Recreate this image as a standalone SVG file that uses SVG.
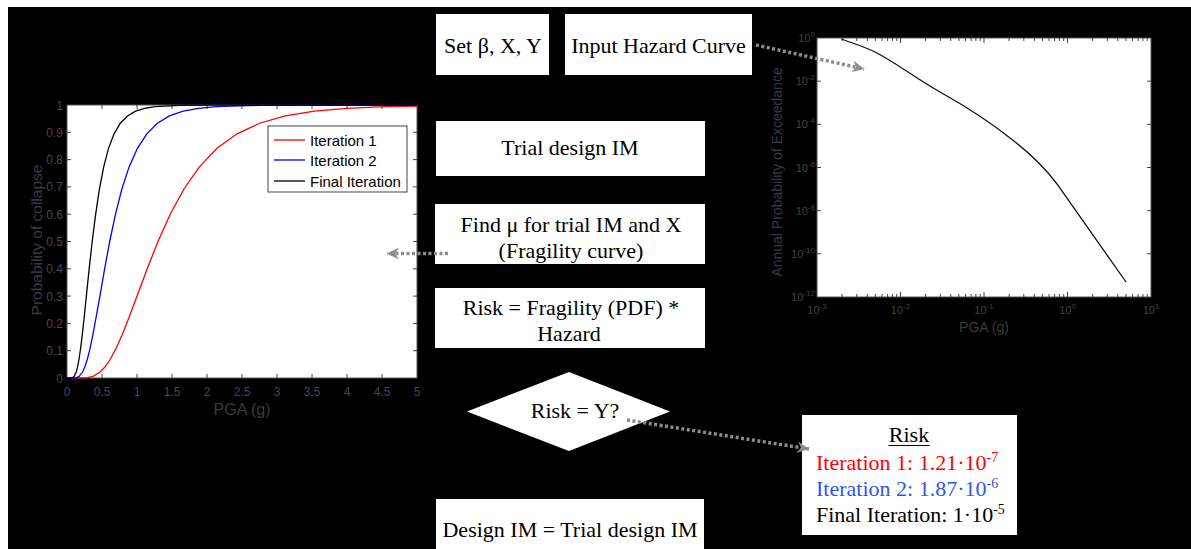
<svg xmlns="http://www.w3.org/2000/svg" width="1191" height="549" viewBox="0 0 1191 549">
<style>
.box{fill:#fff;stroke:none}
.t{font-family:"Liberation Serif","Times New Roman",serif;font-size:22px;fill:#000}
.t.red{fill:#ff0000}
.t.blue{fill:#2f55f0}
.ax{font-family:"Liberation Sans",Arial,sans-serif}
.tl{font-family:"Liberation Sans",Arial,sans-serif;font-size:12px;fill:#464655}
.tr{font-family:"Liberation Sans",Arial,sans-serif;font-size:11px;fill:#3d463d}
.tick{stroke:#444;stroke-width:1}
.conn{fill:none;stroke:#8c8c8c;stroke-width:3.5;stroke-dasharray:3 2.5}
.curve{fill:none;stroke-width:1.3}
</style>
<defs>
<marker id="ah" markerUnits="userSpaceOnUse" markerWidth="14" markerHeight="14" refX="12" refY="6" orient="auto">
<path d="M0,0 L12,6 L0,12 L4,6 z" fill="#8c8c8c"/>
</marker>
<clipPath id="clipL"><rect x="67" y="104" width="350" height="275"/></clipPath>
</defs>
<rect x="0" y="0" width="1191" height="549" fill="#fff"/>
<rect x="8" y="7" width="1183" height="542" fill="#000"/>

<g id="fragility-plot">
<rect x="67" y="105" width="350" height="273" fill="#fff" stroke="#555" stroke-width="1"/>
<g class="tick">
<path d="M102,378v-4M137,378v-4M172,378v-4M207,378v-4M242,378v-4M277,378v-4M312,378v-4M347,378v-4M382,378v-4M102,105v4M137,105v4M172,105v4M207,105v4M242,105v4M277,105v4M312,105v4M347,105v4M382,105v4M67,350.7h4M67,323.4h4M67,296.1h4M67,268.8h4M67,241.5h4M67,214.2h4M67,186.9h4M67,159.6h4M67,132.3h4M417,350.7h-4M417,323.4h-4M417,296.1h-4M417,268.8h-4M417,241.5h-4M417,214.2h-4M417,186.9h-4M417,159.6h-4M417,132.3h-4"/>
</g>
<g clip-path="url(#clipL)">
<polyline class="curve" stroke="#ff0000" points="67,378 82.8,377.95 87.3,377.63 93.1,376.31 100.5,371.78 104.9,367.05 110,359.76 115.7,349.17 122.2,334.67 129.5,316.14 137.9,293.78 147.3,268.44 158,241.5 170.1,214.55 183.8,189.22 199.4,166.86 217,148.33 237,133.83 259.6,123.24 285.3,115.95 314.4,111.22 347.3,108.33 384.6,106.69 417,106"/>
<polyline class="curve" stroke="#0000ff" points="67,378 74.4,377.95 76.5,377.63 79.2,376.31 82.7,371.78 84.8,367.05 87.2,359.76 89.9,349.17 92.9,334.67 96.3,316.14 100.3,293.78 104.7,268.44 109.7,241.5 115.4,214.55 121.8,189.22 129.1,166.86 137.4,148.33 146.8,133.83 157.4,123.24 169.4,115.95 183.1,111.22 198.5,108.33 216,106.69 258.4,105.37 312.7,105.05 417,105"/>
<polyline class="curve" stroke="#000000" points="67,378 71.4,377.95 72.6,377.63 74.2,376.31 76.3,371.78 77.5,367.05 78.9,359.76 80.5,349.17 82.3,334.67 84.3,316.14 86.6,293.78 89.2,268.44 92.2,241.5 95.6,214.55 99.4,189.22 103.7,166.86 108.5,148.33 114.1,133.83 120.3,123.24 127.5,115.95 135.5,111.22 144.6,108.33 155,106.69 179.9,105.37 212,105.05 417,105"/>
</g>
<g id="legend">
<rect x="268" y="126" width="139" height="66" fill="#fff" stroke="#444" stroke-width="1"/>
<line x1="274" y1="140" x2="305" y2="140" stroke="#ff0000" stroke-width="1.3"/>
<line x1="274" y1="160" x2="305" y2="160" stroke="#0000ff" stroke-width="1.3"/>
<line x1="274" y1="181" x2="305" y2="181" stroke="#000" stroke-width="1.3"/>
<text class="ax" x="310" y="145.5" font-size="15" fill="#000">Iteration 1</text>
<text class="ax" x="310" y="165.5" font-size="15" fill="#000">Iteration 2</text>
<text class="ax" x="310" y="186.5" font-size="15" fill="#000">Final Iteration</text>
</g>
<g class="tl" text-anchor="end">
<text x="63" y="382.5">0</text>
<text x="63" y="355.2">0.1</text>
<text x="63" y="327.9">0.2</text>
<text x="63" y="300.6">0.3</text>
<text x="63" y="273.3">0.4</text>
<text x="63" y="246">0.5</text>
<text x="63" y="218.7">0.6</text>
<text x="63" y="191.4">0.7</text>
<text x="63" y="164.1">0.8</text>
<text x="63" y="136.8">0.9</text>
<text x="63" y="109.5">1</text>
</g>
<g class="tl" text-anchor="middle">
<text x="67" y="396">0</text>
<text x="102" y="396">0.5</text>
<text x="137" y="396">1</text>
<text x="172" y="396">1.5</text>
<text x="207" y="396">2</text>
<text x="242" y="396">2.5</text>
<text x="277" y="396">3</text>
<text x="312" y="396">3.5</text>
<text x="347" y="396">4</text>
<text x="382" y="396">4.5</text>
<text x="417" y="396">5</text>
</g>
<text class="ax" x="242" y="415" font-size="16" fill="#353f35" text-anchor="middle">PGA (g)</text>
<text class="ax" transform="translate(42,240) rotate(-90)" font-size="15.5" fill="#3a3a44" text-anchor="middle">Probability of collapse</text>
</g>

<g id="hazard-plot">
<rect x="817" y="38" width="334" height="259" fill="#fff" stroke="#555" stroke-width="1"/>
<g class="tick">
<path d="M817,81.17h4M817,124.33h4M817,167.5h4M817,210.67h4M817,253.83h4M1151,81.17h-4M1151,124.33h-4M1151,167.5h-4M1151,210.67h-4M1151,253.83h-4"/>
<path d="M900.5,297v-5M984,297v-5M1067.5,297v-5M900.5,38v5M984,38v5M1067.5,38v5"/>
<path d="M842.1,297v-3M856.8,297v-3M867.3,297v-3M875.4,297v-3M882,297v-3M887.6,297v-3M892.4,297v-3M896.7,297v-3M925.6,297v-3M940.3,297v-3M950.8,297v-3M958.9,297v-3M965.5,297v-3M971.1,297v-3M975.9,297v-3M980.2,297v-3M1009.1,297v-3M1023.8,297v-3M1034.3,297v-3M1042.4,297v-3M1049,297v-3M1054.6,297v-3M1059.4,297v-3M1063.7,297v-3M1092.6,297v-3M1107.3,297v-3M1117.8,297v-3M1125.9,297v-3M1132.5,297v-3M1138.1,297v-3M1142.9,297v-3M1147.2,297v-3"/>
<path d="M842.1,38v3M856.8,38v3M867.3,38v3M875.4,38v3M882,38v3M887.6,38v3M892.4,38v3M896.7,38v3M925.6,38v3M940.3,38v3M950.8,38v3M958.9,38v3M965.5,38v3M971.1,38v3M975.9,38v3M980.2,38v3M1009.1,38v3M1023.8,38v3M1034.3,38v3M1042.4,38v3M1049,38v3M1054.6,38v3M1059.4,38v3M1063.7,38v3M1092.6,38v3M1107.3,38v3M1117.8,38v3M1125.9,38v3M1132.5,38v3M1138.1,38v3M1142.9,38v3M1147.2,38v3"/>
</g>
<path class="curve" stroke="#111" stroke-width="1.6" d="M841.5,39 C855,44 865,47 875,52 C895,62 915,78 940,92 C965,106 990,122 1010,138 C1030,153 1045,168 1057,184 L1126,282"/>
<g class="tr" text-anchor="end">
<text x="815" y="42">10<tspan dy="-5" font-size="8">0</tspan></text>
<text x="815" y="85.2">10<tspan dy="-5" font-size="8">-2</tspan></text>
<text x="815" y="128.3">10<tspan dy="-5" font-size="8">-4</tspan></text>
<text x="815" y="171.5">10<tspan dy="-5" font-size="8">-6</tspan></text>
<text x="815" y="214.7">10<tspan dy="-5" font-size="8">-8</tspan></text>
<text x="815" y="257.8">10<tspan dy="-5" font-size="8">-10</tspan></text>
<text x="815" y="301">10<tspan dy="-5" font-size="8">-12</tspan></text>
</g>
<g class="tr" text-anchor="middle">
<text x="817" y="314">10<tspan dy="-5" font-size="8">-3</tspan></text>
<text x="900.5" y="314">10<tspan dy="-5" font-size="8">-2</tspan></text>
<text x="984" y="314">10<tspan dy="-5" font-size="8">-1</tspan></text>
<text x="1067.5" y="314">10<tspan dy="-5" font-size="8">0</tspan></text>
<text x="1151" y="314">10<tspan dy="-5" font-size="8">1</tspan></text>
</g>
<text class="ax" x="984" y="332" font-size="14" fill="#353f35" text-anchor="middle">PGA (g)</text>
<text class="ax" transform="translate(782,172) rotate(-90)" font-size="14" fill="#3a3a44" text-anchor="middle">Annual Probability of Exceedance</text>
</g>

<g id="set-params">
<rect class="box" x="436" y="14" width="113" height="61"/>
<text class="t" x="493" y="53" text-anchor="middle">Set β, X, Y</text>
</g>
<g id="input-hazard">
<rect class="box" x="565" y="14" width="187" height="61"/>
<text class="t" x="658.5" y="53" text-anchor="middle">Input Hazard Curve</text>
</g>
<g id="trial-design">
<rect class="box" x="436" y="121" width="269" height="55"/>
<text class="t" x="570" y="155" text-anchor="middle">Trial design IM</text>
</g>
<g id="find-mu">
<rect class="box" x="435" y="204" width="270" height="60"/>
<text class="t" x="571" y="232" text-anchor="middle">Find μ for trial IM and X</text>
<text class="t" x="571" y="258" text-anchor="middle">(Fragility curve)</text>
</g>
<g id="risk-calc">
<rect class="box" x="435" y="288" width="270" height="60"/>
<text class="t" x="571" y="315" text-anchor="middle">Risk = Fragility (PDF) *</text>
<text class="t" x="569" y="341" text-anchor="middle">Hazard</text>
</g>
<g id="decision">
<polygon class="box" points="467,411.5 569,372 670,411.5 569,451"/>
<text class="t" x="575" y="418" text-anchor="middle">Risk = Y?</text>
</g>
<g id="design-im">
<rect class="box" x="436" y="499" width="268" height="50"/>
<text class="t" x="570" y="537" text-anchor="middle">Design IM = Trial design IM</text>
</g>
<g id="risk-results">
<rect class="box" x="802" y="415" width="215" height="120"/>
<text class="t" x="909" y="442" text-anchor="middle">Risk</text>
<line x1="888.5" y1="445.5" x2="929.5" y2="445.5" stroke="#000" stroke-width="1.2"/>
<text class="t red" x="816" y="470">Iteration 1: 1.21·10<tspan dy="-8" font-size="14">-7</tspan></text>
<text class="t blue" x="816" y="496">Iteration 2: 1.87·10<tspan dy="-8" font-size="14">-6</tspan></text>
<text class="t" x="816" y="522">Final Iteration: 1·10<tspan dy="-8" font-size="14">-5</tspan></text>
</g>

<g id="connectors">
<line class="conn" x1="756" y1="45" x2="864" y2="69" marker-end="url(#ah)"/>
<line class="conn" x1="448" y1="253.5" x2="387" y2="253.5" marker-end="url(#ah)"/>
<line class="conn" x1="627" y1="420" x2="809" y2="449" marker-end="url(#ah)"/>
</g>
</svg>
